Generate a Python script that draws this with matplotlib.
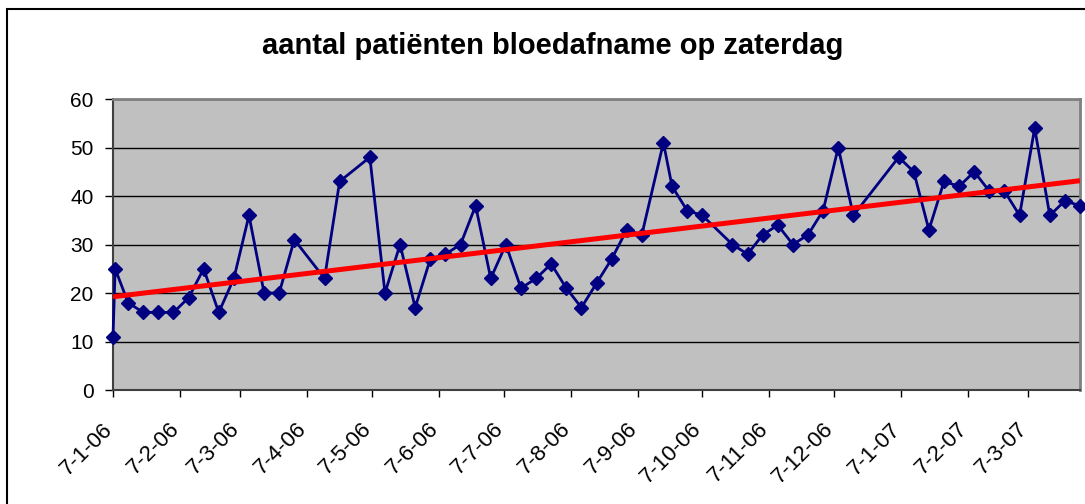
import numpy as np
import pandas as pd
import matplotlib
matplotlib.use('Agg')
import matplotlib.pyplot as plt
import matplotlib.dates as mdates
from matplotlib.patches import Rectangle
from matplotlib.transforms import ScaledTranslation

plt.rcParams['font.family'] = ['Liberation Sans', 'DejaVu Sans']

# data (weekly saturday counts)
dates = [
    '2006-01-07', '2006-01-08', '2006-01-14', '2006-01-21', '2006-01-28',
    '2006-02-04', '2006-02-11', '2006-02-18', '2006-02-25', '2006-03-04',
    '2006-03-11', '2006-03-18', '2006-03-25', '2006-04-01', '2006-04-15',
    '2006-04-22', '2006-05-06', '2006-05-13', '2006-05-20', '2006-05-27',
    '2006-06-03', '2006-06-10', '2006-06-17', '2006-06-24', '2006-07-01',
    '2006-07-08', '2006-07-15', '2006-07-22', '2006-07-29', '2006-08-05',
    '2006-08-12', '2006-08-19', '2006-08-26', '2006-09-02', '2006-09-09',
    '2006-09-19', '2006-09-23', '2006-09-30', '2006-10-07', '2006-10-21',
    '2006-10-28', '2006-11-04', '2006-11-11', '2006-11-18', '2006-11-25',
    '2006-12-02', '2006-12-09', '2006-12-16', '2007-01-06', '2007-01-13',
    '2007-01-20', '2007-01-27', '2007-02-03', '2007-02-10', '2007-02-17',
    '2007-02-24', '2007-03-03', '2007-03-10', '2007-03-17', '2007-03-24',
    '2007-03-31',
]
patients = [
    11, 25, 18, 16, 16,
    16, 19, 25, 16, 23,
    36, 20, 20, 31, 23,
    43, 48, 20, 30, 17,
    27, 28, 30, 38, 23,
    30, 21, 23, 26, 21,
    17, 22, 27, 33, 32,
    51, 42, 37, 36, 30,
    28, 32, 34, 30, 32,
    37, 50, 36, 48, 45,
    33, 43, 42, 45, 41,
    41, 36, 54, 36, 39,
    38,
]
# ticks on the 7th of every month
tick_dates = pd.date_range('2006-01-01', '2007-03-01', freq='MS') + pd.Timedelta(days=6)

title = 'aantal patiënten bloedafname op zaterdag'

df = pd.DataFrame({'Date': pd.to_datetime(dates), 'Patients': patients})
x = mdates.date2num(df['Date'])

# linear trendline like excel
coef = np.polyfit(x, df['Patients'], 1)
trend = np.polyval(coef, x)

fig = plt.figure(figsize=(10.85, 5.04), dpi=100)
ax = fig.add_axes([113 / 1085, 1 - 390 / 504, 967 / 1085, 291 / 504])

ax.set_facecolor('#C0C0C0')
ax.yaxis.grid(True, color='black', linewidth=1.0)
ax.set_axisbelow(True)

ax.plot(df['Date'], df['Patients'], color='#000080', linewidth=2.0,
        marker='D', markersize=7, zorder=3, clip_on=False)
ax.plot(df['Date'], trend, color='#FF0000', linewidth=3.6, zorder=4,
        solid_capstyle='butt')

ax.set_xlim(pd.Timestamp('2006-01-07'), pd.Timestamp('2007-03-31'))
ax.set_ylim(0, 60)
ax.set_yticks(range(0, 61, 10))
ax.set_xticks(tick_dates)
ax.set_xticklabels([f'{d.day}-{d.month}-{d.strftime("%y")}' for d in tick_dates])

ax.tick_params(axis='y', labelsize=15, length=5.5, width=1, color='black', pad=8.5)
ax.tick_params(axis='x', labelsize=16, length=5, width=1, color='black', pad=2)
plt.setp(ax.get_xticklabels(), rotation=45, ha='right', rotation_mode='anchor')
# excel puts the slanted labels a bit lower and to the left of the tick
shift = ScaledTranslation(-0.11, -0.19, fig.dpi_scale_trans)
for lbl in ax.get_xticklabels():
    lbl.set_transform(lbl.get_transform() + shift)

for side in ['top', 'right']:
    ax.spines[side].set_color('#808080')
    ax.spines[side].set_linewidth(2)
for side in ['left', 'bottom']:
    ax.spines[side].set_color('#404040')
    ax.spines[side].set_linewidth(1.5)

fig.text(553 / 1085, 1 - 46 / 504, title, ha='center', va='center',
         fontsize=21, fontweight='bold')

# outer chart frame
fig.patches.append(Rectangle((7 / 1085, -0.1), 1.2, 1.1 - 9 / 504,
                             transform=fig.transFigure, fill=False,
                             edgecolor='black', linewidth=1.5))

fig.savefig('out.png', dpi=100)
